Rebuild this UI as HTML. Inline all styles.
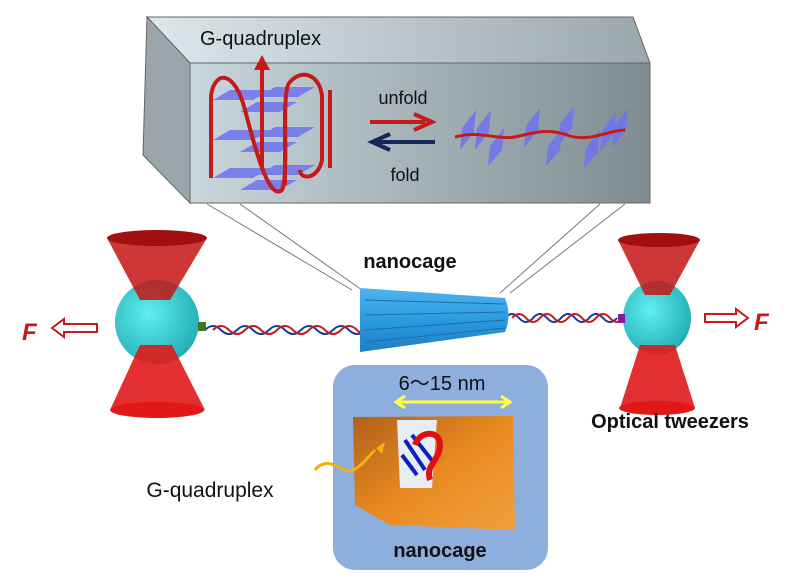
<!DOCTYPE html>
<html><head><meta charset="utf-8"><style>
html,body{margin:0;padding:0;background:#fff;}
svg{display:block;font-family:"Liberation Sans",sans-serif;}
</style></head><body>
<svg width="800" height="585" viewBox="0 0 800 585" xmlns="http://www.w3.org/2000/svg">
<defs>
<linearGradient id="front" x1="0" x2="1" y1="0" y2="0"><stop offset="0" stop-color="#c9d6dc"/><stop offset="1" stop-color="#7f8c92"/></linearGradient>
<linearGradient id="top" x1="0" x2="1"><stop offset="0" stop-color="#dce7ec"/><stop offset="1" stop-color="#9aa7ad"/></linearGradient>
<linearGradient id="cyl" x1="0" x2="0" y1="0" y2="1"><stop offset="0" stop-color="#4fb3ef"/><stop offset="0.5" stop-color="#2a9be0"/><stop offset="1" stop-color="#1f7fc4"/></linearGradient>
<radialGradient id="sph" cx="0.4" cy="0.4" r="0.7"><stop offset="0" stop-color="#5ff0f0"/><stop offset="1" stop-color="#1fa6b0"/></radialGradient>
<linearGradient id="cage" x1="0" x2="1" y1="0" y2="1"><stop offset="0" stop-color="#b0601a"/><stop offset="0.5" stop-color="#e88a20"/><stop offset="1" stop-color="#f0a040"/></linearGradient>
</defs>
<polygon points="147,17 633,17 650,63 190,63" fill="url(#top)" stroke="#666" stroke-width="1"/>
<polygon points="147,17 190,63 190,203 143,155" fill="#9aa6ab" stroke="#666" stroke-width="1"/>
<rect x="190" y="63" width="460" height="140" fill="url(#front)" stroke="#666" stroke-width="1"/>
<text x="200" y="45" font-size="20" fill="#111">G-quadruplex</text>
<g fill="#6f74f0" opacity="0.85">
<polygon points="213,100 230,90 270,90 253,100"/><polygon points="258,97 275,87 315,87 298,97"/>
<polygon points="240,112 257,102 297,102 280,112"/>
<polygon points="213,140 230,130 270,130 253,140"/><polygon points="258,137 275,127 315,127 298,137"/>
<polygon points="240,152 257,142 297,142 280,152"/>
<polygon points="213,178 230,168 270,168 253,178"/><polygon points="258,175 275,165 315,165 298,175"/>
<polygon points="240,190 257,180 297,180 280,190"/>
</g>
<g fill="none" stroke="#c41a1a" stroke-width="4">
<line x1="211" y1="95" x2="211" y2="178"/><line x1="330" y1="90" x2="330" y2="168"/>
<line x1="285" y1="105" x2="285" y2="185"/>
<path d="M211,95 C215,70 235,70 245,110 C258,160 270,200 282,190 C290,170 280,90 290,82 C300,70 318,72 322,95 L322,160 C318,180 300,180 300,170"/>
<line x1="262" y1="170" x2="262" y2="70"/>
</g>
<polygon points="262,55 254,70 270,70" fill="#c41a1a"/>
<text x="403" y="104" font-size="18" text-anchor="middle" fill="#111">unfold</text>
<text x="405" y="181" font-size="18" text-anchor="middle" fill="#111">fold</text>
<line x1="370" y1="122" x2="425" y2="122" stroke="#c41a1a" stroke-width="4"/>
<polyline points="414,114 432,122 414,130" fill="none" stroke="#c41a1a" stroke-width="4"/>
<line x1="375" y1="142" x2="435" y2="142" stroke="#15275a" stroke-width="4"/>
<polyline points="390,134 372,142 390,150" fill="none" stroke="#15275a" stroke-width="4"/>
<g fill="#6f74f0" opacity="0.85">
<polygon points="462,128 476,110 474,132 460,150"/><polygon points="477,128 491,110 489,132 475,150"/>
<polygon points="490,146 504,128 502,150 488,166"/><polygon points="526,126 540,108 538,130 524,148"/>
<polygon points="560,124 574,106 572,128 558,146"/><polygon points="548,146 562,128 560,150 546,166"/>
<polygon points="602,130 616,112 614,134 600,152"/><polygon points="614,126 628,108 626,130 612,148"/>
<polygon points="586,148 600,130 598,152 584,168"/>
</g>
<path d="M455,137 C480,130 495,140 515,137 C535,132 550,128 570,136 C590,142 610,130 625,130" fill="none" stroke="#c41a1a" stroke-width="3"/>
<g stroke="#777" stroke-width="1">
<line x1="207" y1="204" x2="352" y2="290"/><line x1="240" y1="204" x2="362" y2="290"/>
<line x1="600" y1="204" x2="500" y2="293"/><line x1="625" y1="204" x2="510" y2="293"/>
</g>
<text x="410" y="268" font-size="20" font-weight="bold" text-anchor="middle" fill="#111">nanocage</text>
<g fill="none" stroke-width="2">
<path d="M205,330 q8,-8 16,0 t16,0 t16,0 t16,0 t16,0 t16,0 t16,0 t16,0 t16,0 t16,0" stroke="#1a3a9a"/>
<path d="M213,330 q8,-8 16,0 t16,0 t16,0 t16,0 t16,0 t16,0 t16,0 t16,0 t16,0 t16,0" stroke="#c41a1a"/>
<path d="M505,318 q7,-8 14,0 t14,0 t14,0 t14,0 t14,0 t14,0 t14,0 t14,0" stroke="#1a3a9a"/>
<path d="M512,318 q7,-8 14,0 t14,0 t14,0 t14,0 t14,0 t14,0 t14,0 t14,0" stroke="#c41a1a"/>
</g>
<path d="M360,288 L505,298 Q512,315 505,332 L360,352 Z" fill="url(#cyl)"/>
<g stroke="#1f6fa8" stroke-width="1"><line x1="365" y1="300" x2="505" y2="304"/><line x1="365" y1="315" x2="505" y2="312"/><line x1="365" y1="330" x2="505" y2="320"/><line x1="365" y1="342" x2="505" y2="328"/></g>
<ellipse cx="157" cy="322" rx="42" ry="42" fill="url(#sph)"/>
<polygon points="107,238 207,238 170,300 140,300" fill="#c41414" opacity="0.85"/>
<ellipse cx="157" cy="238" rx="50" ry="8" fill="#a01010"/>
<polygon points="140,345 172,345 205,410 110,410" fill="#e01818" opacity="0.9"/>
<ellipse cx="157" cy="410" rx="47" ry="8" fill="#e01818"/>
<rect x="198" y="322" width="8" height="9" fill="#3a7a20"/>
<ellipse cx="657" cy="318" rx="34" ry="37" fill="url(#sph)"/>
<polygon points="618,240 700,240 670,295 645,295" fill="#c41414" opacity="0.85"/>
<ellipse cx="659" cy="240" rx="41" ry="7" fill="#a01010"/>
<polygon points="640,345 675,345 695,408 620,408" fill="#e01818" opacity="0.9"/>
<ellipse cx="657" cy="408" rx="38" ry="7" fill="#e01818"/>
<rect x="618" y="314" width="7" height="9" fill="#8a1a9a"/>
<text x="22" y="340" font-size="24" font-weight="bold" font-style="italic" fill="#c41a1a">F</text>
<polygon points="52,328 64,319 64,324 97,324 97,332 64,332 64,337" fill="#fff" stroke="#c41a1a" stroke-width="2"/>
<polygon points="748,318 736,309 736,314 705,314 705,322 736,322 736,327" fill="#fff" stroke="#c41a1a" stroke-width="2"/>
<text x="754" y="330" font-size="24" font-weight="bold" font-style="italic" fill="#c41a1a">F</text>
<text x="670" y="428" font-size="20" font-weight="bold" text-anchor="middle" fill="#111">Optical tweezers</text>
<rect x="333" y="365" width="215" height="205" rx="22" fill="#8eaedd"/>
<text x="442" y="390" font-size="20" text-anchor="middle" fill="#111">6〜15 nm</text>
<line x1="398" y1="402" x2="508" y2="402" stroke="#ffff40" stroke-width="3"/>
<polyline points="405,396 396,402 405,408" fill="none" stroke="#ffff40" stroke-width="3"/>
<polyline points="501,396 510,402 501,408" fill="none" stroke="#ffff40" stroke-width="3"/>
<polygon points="353,417 513,416 515,530 390,525 355,505" fill="url(#cage)"/>
<polygon points="397,420 437,420 432,488 400,488" fill="#e6eef4"/>
<path d="M405,440 l20,30 M412,435 l22,28 M402,455 l15,20" stroke="#1020c0" stroke-width="4"/>
<path d="M415,445 c5,-15 25,-15 25,0 c0,15 -15,20 -10,35" fill="none" stroke="#e01010" stroke-width="6"/>
<path d="M315,470 c10,-12 20,-5 30,0 c10,5 20,-10 30,-20" fill="none" stroke="#f5b010" stroke-width="3"/>
<polygon points="385,442 376,448 382,454" fill="#f5b010"/>
<text x="440" y="557" font-size="20" font-weight="bold" text-anchor="middle" fill="#111">nanocage</text>
<text x="210" y="497" font-size="21" text-anchor="middle" fill="#111">G-quadruplex</text>
</svg>
</body></html>
